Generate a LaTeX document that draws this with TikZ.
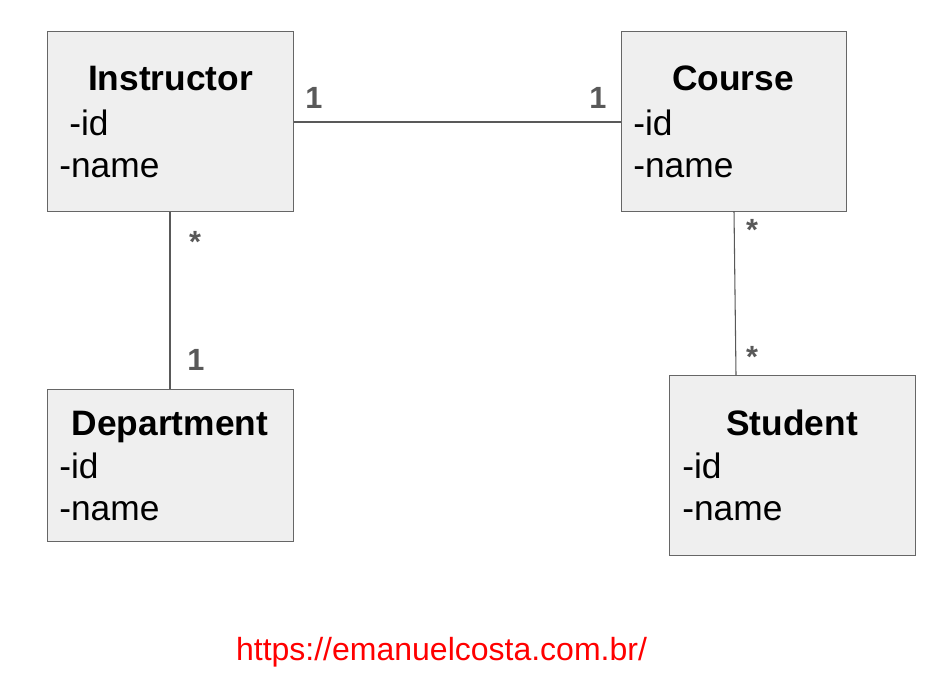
\documentclass[tikz,border=0pt]{standalone}
\usepackage{fontspec}
\setmainfont{Liberation Sans}
\definecolor{boxfill}{HTML}{EFEFEF}
\definecolor{boxline}{HTML}{666666}
\definecolor{conn}{HTML}{595959}
\definecolor{urlred}{HTML}{FF0000}
\begin{document}
\begin{tikzpicture}[x=0.75pt,y=-0.75pt,
  cls/.style={draw=boxline,fill=boxfill,line width=0.9pt,rectangle,inner sep=0pt,anchor=north west},
  ttl/.style={font=\fontsize{26.5pt}{32pt}\selectfont\bfseries,anchor=base,inner sep=0pt},
  attr/.style={font=\fontsize{26.5pt}{32pt}\selectfont,anchor=base west,inner sep=0pt},
  mult/.style={font=\fontsize{23pt}{27pt}\selectfont\bfseries,text=conn,inner sep=0pt},
  link/.style={draw=conn,line width=0.8pt}]
\useasboundingbox (0,0) rectangle (952,690);
\fill[white] (0,0) rectangle (952,690);
% boxes
\node[cls,minimum width=184.5pt,minimum height=135pt] (instr) at (47,31) {};
\node[cls,minimum width=168.75pt,minimum height=135pt] (course) at (621,31) {};
\node[cls,minimum width=184.5pt,minimum height=114pt] (dept) at (47,389) {};
\node[cls,minimum width=184.5pt,minimum height=135pt] (stud) at (669,375) {};
% texts
\node[ttl] (instrT) at (170.5,90) {Instructor};
\node[attr] (instrA) at (69,135) {-id};
\node[attr] (instrB) at (59,177) {-name};
\node[ttl] (courseT) at (733,90) {Course};
\node[attr] (courseA) at (633,135) {-id};
\node[attr] (courseB) at (633,177) {-name};
\node[ttl] (deptT) at (170,435) {Department};
\node[attr] (deptA) at (59,478) {-id};
\node[attr] (deptB) at (59,520) {-name};
\node[ttl] (studT) at (792,435) {Student};
\node[attr] (studA) at (682,478) {-id};
\node[attr] (studB) at (682,520) {-name};
% connectors
\coordinate (ic1) at (293,122);
\coordinate (ic2) at (621,122);
\draw[link] (instr.east |- ic1) -- (course.west |- ic2);
\coordinate (id1) at (170,211);
\draw[link] (instr.south -| id1) -- (dept.north -| id1);
\coordinate (cs1) at (734,211);
\coordinate (cs2) at (736,375);
\draw[link] (cs1) -- (cs2);
% multiplicities
\node[mult] (m1) at (314,98) {1};
\node[mult] (m2) at (598,98) {1};
\node[mult] (m3) at (195,242) {*};
\node[mult] (m4) at (196,360) {1};
\node[mult] (m5) at (752,230) {*};
\node[mult] (m6) at (752,357) {*};
% url
\node[font=\fontsize{24pt}{28pt}\selectfont,text=urlred,anchor=base,inner sep=0pt] (url) at (441.5,660) {https://emanuelcosta.com.br/};
\end{tikzpicture}
\end{document}
